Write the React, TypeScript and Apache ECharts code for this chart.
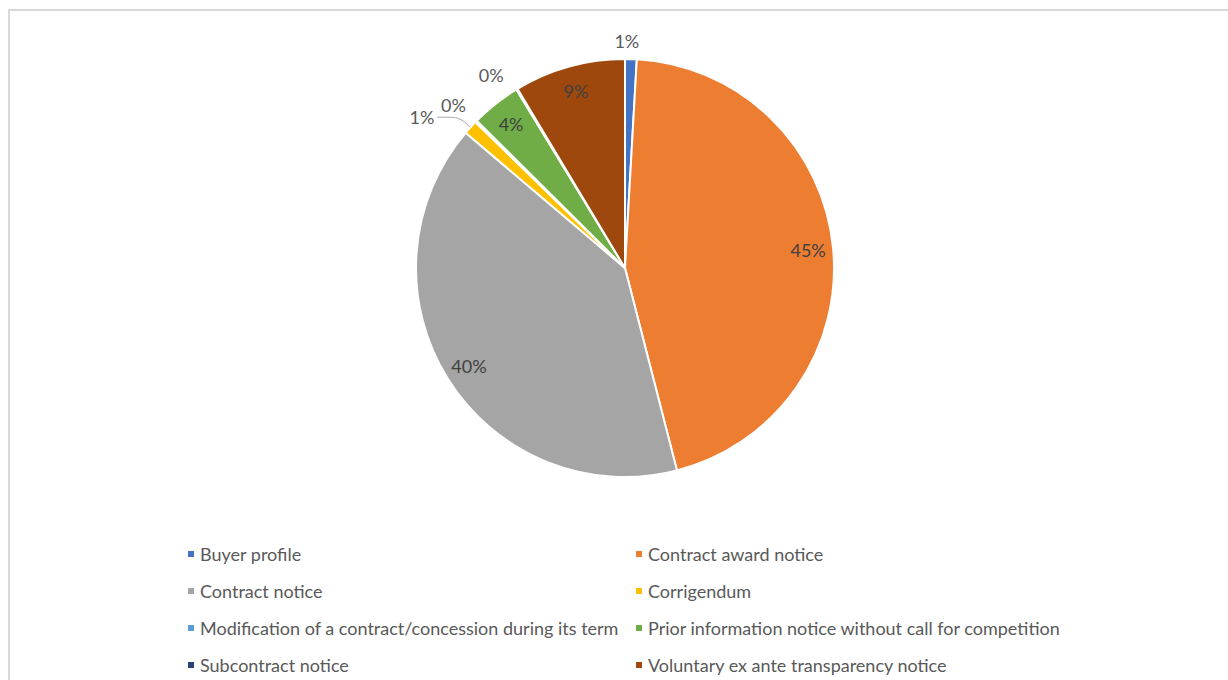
import React, { useEffect, useRef } from "react";
import * as echarts from "echarts";

const categories = [
  "Buyer profile",
  "Contract award notice",
  "Contract notice",
  "Corrigendum",
  "Modification of a contract/concession during its term",
  "Prior information notice without call for competition",
  "Subcontract notice",
  "Voluntary ex ante transparency notice",
];
const shares = [0.9, 45.1, 40.2, 1.1, 0.15, 3.85, 0.1, 8.6];
const colors = ["#4472C4", "#ED7D31", "#A5A5A5", "#FFC000", "#5B9BD5", "#70AD47", "#264478", "#9E480E"];
const insideLabelIdx = [1, 2, 5, 7];
const legendCol1 = [categories[0], categories[2], categories[4], categories[6]];
const legendCol2 = [categories[1], categories[3], categories[5], categories[7]];

const FONT = "Lato, 'Open Sans', sans-serif";
const FS = 18;
const pct = (p: any) => Math.round(p.percent) + "%";

// outside-label leader geometry per small slice: [length, length2, showLine]
const outsideCfg: Record<number, [number, number, boolean]> = {
  0: [18, 0, false],
  3: [15, 22, true],
  4: [24, 0, false],
  6: [16, 2, false],
};
// small nudges of outside labels: [dx, dy]
const labelNudge: Record<number, [number, number]> = {
  0: [-20, 0],
  4: [10, 0],
};

export default function App() {
  const ref = useRef<HTMLDivElement>(null);
  useEffect(() => {
    if (!ref.current) return;
    const chart = echarts.init(ref.current, null, { renderer: "svg" });
    const mainData = categories.map((name, i) => {
      const cfg = outsideCfg[i];
      return {
        name,
        value: shares[i],
        itemStyle: { color: colors[i] },
        label: cfg ? { show: true, position: "outside" } : { show: false },
        labelLine: cfg
          ? { show: cfg[2], length: cfg[0], length2: cfg[1] }
          : { show: false },
      };
    });
    const labelData = categories.map((name, i) => ({
      name,
      value: shares[i],
      label: { show: insideLabelIdx.includes(i) },
    }));
    const legendBase = {
      orient: "vertical",
      icon: "rect",
      itemWidth: 8,
      itemHeight: 8,
      itemGap: 17,
      top: 544,
      height: 140,
      padding: 0,
      selectedMode: false,
      textStyle: { fontFamily: FONT, fontSize: FS, color: "#595959", lineHeight: 20 },
    };
    chart.setOption({
      animation: false,
      backgroundColor: "#ffffff",
      graphic: [
        {
          type: "rect",
          shape: { x: 9, y: 10, width: 1300, height: 800 },
          style: { fill: "none", stroke: "#d9d9d9", lineWidth: 2 },
          silent: true,
        },
      ],
      legend: [
        { ...legendBase, left: 186, data: legendCol1 },
        { ...legendBase, left: 634, data: legendCol2 },
      ],
      series: [
        {
          type: "pie",
          center: [625, 268],
          radius: [0, 209],
          startAngle: 90,
          clockwise: true,
          avoidLabelOverlap: false,
          itemStyle: { borderColor: "#ffffff", borderWidth: 2 },
          label: {
            formatter: pct,
            fontFamily: FONT,
            fontSize: FS,
            color: "#595959",
            distanceToLabelLine: 3,
          },
          labelLine: { lineStyle: { color: "#a6a6a6", width: 1 }, smooth: 0.3 },
          labelLayout: (p: any) => {
            const n = labelNudge[p.dataIndex];
            return n ? { dx: n[0], dy: n[1] } : {};
          },
          emphasis: { disabled: true },
          data: mainData,
        },
        {
          type: "pie",
          center: [625, 268],
          radius: [0, 362],
          startAngle: 90,
          clockwise: true,
          silent: true,
          avoidLabelOverlap: false,
          itemStyle: { color: "rgba(0,0,0,0)", borderWidth: 0 },
          label: {
            position: "inside",
            formatter: pct,
            fontFamily: FONT,
            fontSize: FS,
            color: "#404040",
          },
          labelLine: { show: false },
          emphasis: { disabled: true },
          data: labelData,
        },
      ],
    });
    return () => chart.dispose();
  }, []);
  return (
    <div
      ref={ref}
      style={{ position: "fixed", left: 0, top: 0, width: 1228, height: 680 }}
    />
  );
}
